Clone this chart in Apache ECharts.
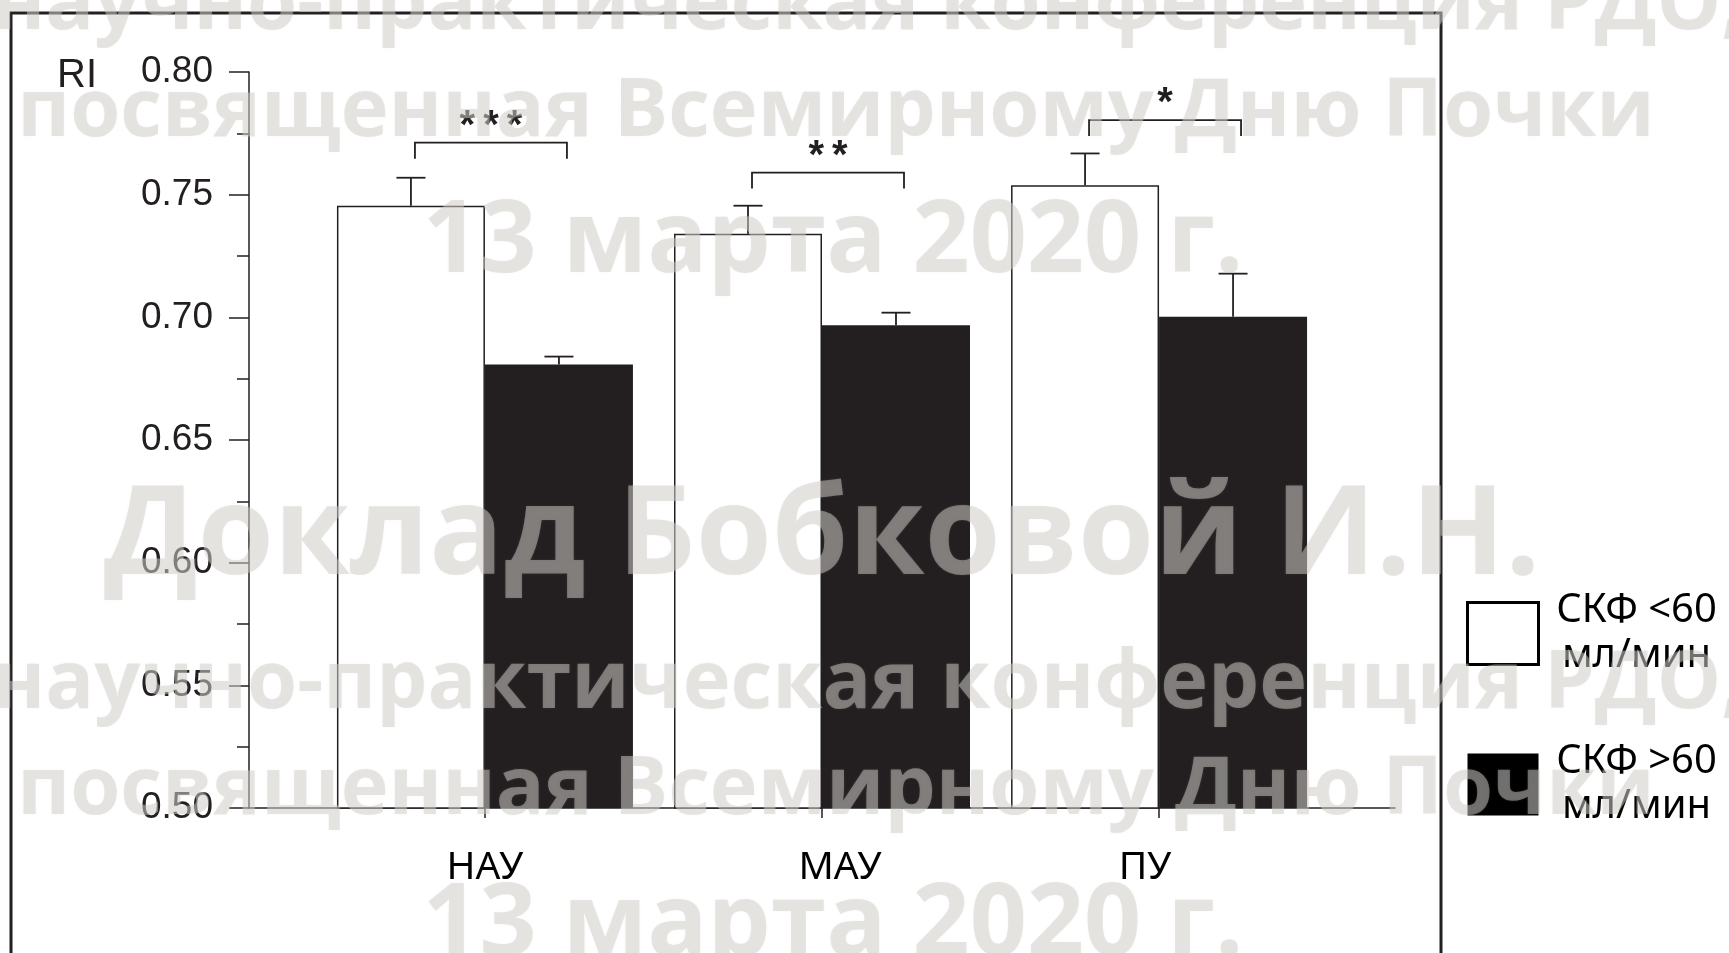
<!DOCTYPE html>
<html>
<head>
<meta charset="utf-8">
<script src="https://cdn.jsdelivr.net/npm/echarts@6/dist/echarts.min.js"></script>
<style>
html,body{margin:0;padding:0;background:#fff;}
#chart{width:1729px;height:953px;}
</style>
</head>
<body>
<div id="chart"></div>
<script>
// ---- data ----
const categories = ['НАУ', 'МАУ', 'ПУ'];
const categoryPos = [1, 2, 3];
const seriesNames = ['СКФ <60\nмл/мин', 'СКФ >60\nмл/мин'];
const riLow = [0.7455, 0.7341, 0.7538];      // СКФ <60
const riLowErr = [0.0114, 0.0114, 0.0130];
const riHigh = [0.6808, 0.6968, 0.7002];     // СКФ >60
const riHighErr = [0.0032, 0.0051, 0.0176];
const bracketLevel = [0.7712, 0.7590, 0.7804];
const significance = ['***', '**', '*'];
const yMin = 0.50, yMax = 0.80, yStep = 0.05;
const yAxisTitle = 'RI';
const watermarkLines = [
  'научно-практическая конференция РДО,',
  'посвященная Всемирному Дню Почки',
  '13 марта 2020 г.',
  'Доклад Бобковой И.Н.',
  'научно-практическая конференция РДО,',
  'посвященная Всемирному Дню Почки',
  '13 марта 2020 г.'
];

// ---- styles ----
const INK = '#231f20';
const BAR_W = 148;
const CAP_W = 29;
const labelShift = [0, 36, -28]; // rich padding to nudge x labels
const wmStyle = [
  {size: 81, x: 868, y: 6},
  {size: 81, x: 836, y: 113},
  {size: 100, x: 833, y: 244},
  {size: 123, x: 822, y: 539},
  {size: 81, x: 868, y: 685},
  {size: 81, x: 836, y: 791},
  {size: 100, x: 833, y: 927}
];

const chart = echarts.init(document.getElementById('chart'), null, {renderer: 'canvas'});

const errData = [];
categoryPos.forEach((x, i) => {
  errData.push([x, riLow[i], riLowErr[i], -1]);
  errData.push([x, riHigh[i], riHighErr[i], 1]);
});
const bracketData = categoryPos.map((x, i) => [x, bracketLevel[i], significance[i]]);

const rich = {};
categories.forEach((c, i) => {
  const s = labelShift[i];
  rich['c' + i] = {
    fontFamily: 'Noto Sans', fontSize: 39, color: '#000',
    padding: s >= 0 ? [0, 0, 0, s] : [0, -s, 0, 0]
  };
});

const option = {
  animation: false,
  backgroundColor: '#fff',
  grid: {left: 249, right: 334, top: 72, bottom: 145, outerBoundsMode: 'none'},
  xAxis: {
    type: 'value', min: 0.3, max: 3.7,
    splitLine: {show: false},
    axisLine: {show: true, lineStyle: {color: INK, width: 1.5}},
    axisTick: {show: true, customValues: categoryPos, length: 10, lineStyle: {color: INK, width: 1.5}},
    axisLabel: {
      show: true, customValues: categoryPos, margin: 40,
      formatter: v => {
        const i = categoryPos.indexOf(Math.round(v));
        return i < 0 ? '' : '{c' + i + '|' + categories[i] + '}';
      },
      rich: rich
    }
  },
  yAxis: {
    type: 'value', min: yMin, max: yMax, interval: yStep,
    splitLine: {show: false},
    axisLine: {show: true, lineStyle: {color: INK, width: 1.5}},
    axisTick: {show: true, length: 20, lineStyle: {color: INK, width: 1.5}},
    minorTick: {show: true, splitNumber: 2, length: 12, lineStyle: {color: INK, width: 1.5}},
    axisLabel: {
      margin: 36, fontFamily: 'Liberation Sans', fontSize: 37, color: INK,
      formatter: v => v.toFixed(2)
    }
  },
  legend: {
    orient: 'vertical', left: 1466, top: 591, padding: 0,
    itemWidth: 71, itemHeight: 62, itemGap: 66, icon: 'rect',
    data: [
      {name: seriesNames[0], itemStyle: {color: '#fff', borderColor: '#000', borderWidth: 3}},
      {name: seriesNames[1], itemStyle: {color: '#000', borderWidth: 0}}
    ],
    formatter: n => '{t|' + n + '}',
    textStyle: {
      rich: {t: {fontFamily: 'Noto Sans', fontSize: 40, lineHeight: 45, color: '#000', width: 186, align: 'center'}}
    },
    selectedMode: false
  },
  series: [
    {
      name: seriesNames[0], type: 'bar', barWidth: BAR_W, barGap: '0%',
      data: categoryPos.map((x, i) => [x, riLow[i]]),
      itemStyle: {color: '#fff', borderColor: INK, borderWidth: 1.5}
    },
    {
      name: seriesNames[1], type: 'bar', barWidth: BAR_W, barGap: '0%',
      data: categoryPos.map((x, i) => [x, riHigh[i]]),
      itemStyle: {color: INK, borderColor: INK, borderWidth: 0}
    },
    {
      name: 'err', type: 'custom', data: errData, z: 5,
      renderItem: (params, api) => {
        const x = api.value(0), v = api.value(1), e = api.value(2), side = api.value(3);
        const p0 = api.coord([x, v]);
        const p1 = api.coord([x, v + e]);
        const cx = p0[0] + side * BAR_W / 2;
        const st = {stroke: INK, lineWidth: 1.8};
        return {type: 'group', children: [
          {type: 'line', shape: {x1: cx, y1: p0[1], x2: cx, y2: p1[1]}, style: st},
          {type: 'line', shape: {x1: cx - CAP_W / 2, y1: p1[1], x2: cx + CAP_W / 2, y2: p1[1]}, style: st}
        ]};
      }
    },
    {
      name: 'sig', type: 'custom', data: bracketData, z: 5,
      renderItem: (params, api) => {
        const x = api.value(0), lvl = api.value(1);
        const p = api.coord([x, lvl]);
        const x1 = p[0] - 70, x2 = p[0] + 82, y = p[1];
        const st = {stroke: INK, lineWidth: 1.8, fill: null};
        return {type: 'group', children: [
          {type: 'polyline', shape: {points: [[x1, y + 16], [x1, y], [x2, y], [x2, y + 16]]}, style: st},
          {type: 'text', style: {
            text: bracketData[params.dataIndex][2].split('').join('\u2009'),
            x: (x1 + x2) / 2, y: y - 16, align: 'center', verticalAlign: 'middle',
            fontFamily: 'Liberation Sans', fontWeight: 'bold', fontSize: 40, fill: INK
          }}
        ]};
      }
    }
  ],
  graphic: [
    {type: 'polyline', z: 50, shape: {points: [[11, 960], [11, 13], [1441, 13], [1441, 960]]},
     style: {stroke: INK, lineWidth: 3, fill: null}},
    {type: 'text', z: 50, x: 57, y: 76, style: {text: yAxisTitle, fontFamily: 'Liberation Sans', fontSize: 40, fill: INK, verticalAlign: 'middle'}}
  ].concat(watermarkLines.map((t, i) => ({
    type: 'text', z: 100, x: wmStyle[i].x, y: wmStyle[i].y,
    style: {
      text: t, align: 'center', verticalAlign: 'middle',
      fontFamily: 'Open Sans', fontWeight: 'bold', fontSize: wmStyle[i].size,
      fill: 'rgba(206,204,200,0.49)',
      textShadowBlur: 3, textShadowColor: 'rgba(206,204,200,0.25)'
    }
  })))
};
chart.setOption(option);
</script>
</body>
</html>
